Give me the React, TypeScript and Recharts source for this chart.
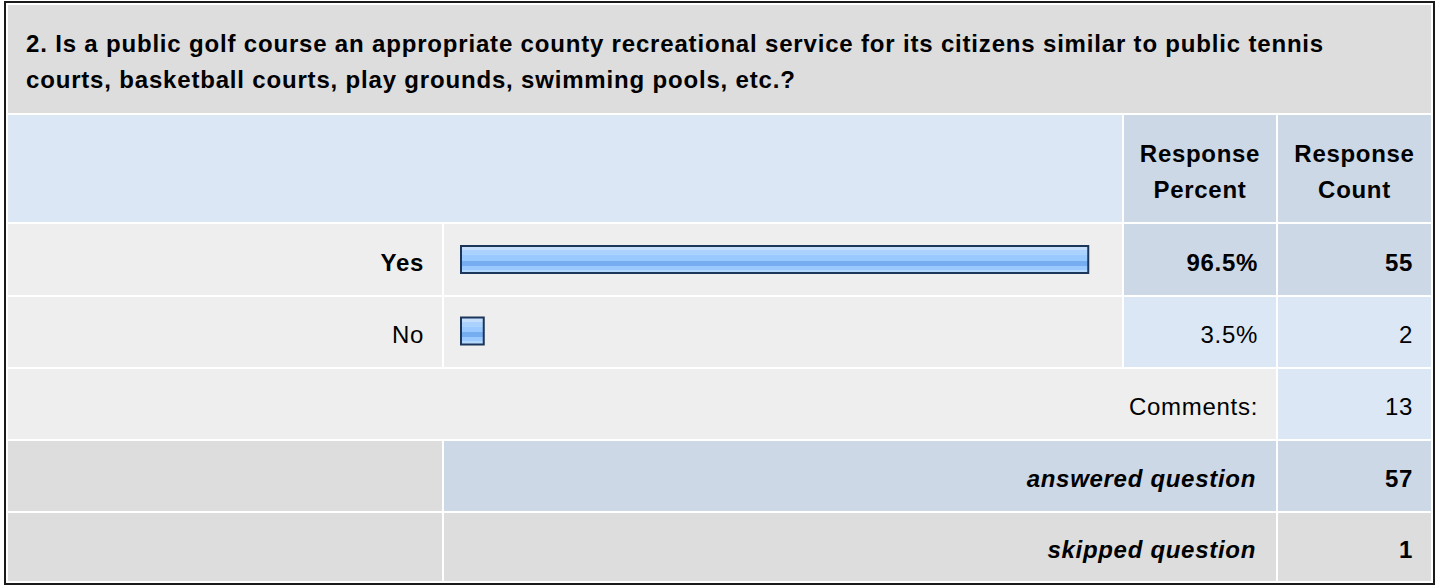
import React from "react";
import { BarChart, Bar, XAxis, YAxis } from "recharts";

// survey answers
const CATEGORIES = ["Yes", "No"];
const PERCENTS = [96.5, 3.5];
const COUNTS = [55, 2];
const COMMENTS = 13;
const ANSWERED = 57;
const SKIPPED = 1;
const QUESTION =
  "2. Is a public golf course an appropriate county recreational service for its citizens similar to public tennis courts, basketball courts, play grounds, swimming pools, etc.?";

const GRAY = "#dddddd";
const LIGHT = "#eeeeee";
const BLUE = "#dce7f5";
const BLUE_DARK = "#ccd8e6";

const FONT = '"Liberation Sans", Arial, Helvetica, sans-serif';

interface CellProps {
  x: number;
  y: number;
  w: number;
  h: number;
  bg: string;
  align?: "left" | "right" | "center";
  bold?: boolean;
  italic?: boolean;
  padRight?: number;
  spacing?: number;
  children?: React.ReactNode;
}

function Cell({ x, y, w, h, bg, align = "right", bold, italic, padRight = 18, spacing, children }: CellProps) {
  return (
    <div
      style={{
        position: "absolute",
        left: x,
        top: y,
        width: w,
        height: h,
        background: bg,
        boxSizing: "border-box",
        display: "flex",
        alignItems: "center",
        justifyContent: align === "right" ? "flex-end" : align === "left" ? "flex-start" : "center",
        textAlign: align,
        paddingTop: 6,
        paddingLeft: 18,
        paddingRight: padRight,
        fontWeight: bold ? "bold" : "normal",
        fontStyle: italic ? "italic" : "normal",
        letterSpacing: spacing,
      }}
    >
      <div>{children}</div>
    </div>
  );
}

export default function App() {
  const data = CATEGORIES.map((name, i) => ({ name, percent: PERCENTS[i] }));

  // columns: label | bar | percent | count
  const cA = [8, 442];
  const cB = [444, 1122];
  const cC = [1124, 1276];
  const cD = [1278, 1431];
  const rows = {
    title: [5, 113],
    header: [115, 222],
    yes: [224, 295],
    no: [297, 367],
    comments: [369, 439],
    answered: [441, 511],
    skipped: [513, 581],
  };
  const w = (c: number[]) => c[1] - c[0];
  const h = (r: number[]) => r[1] - r[0];

  return (
    <div
      style={{
        position: "absolute",
        left: 0,
        top: 0,
        width: 1437,
        height: 586,
        background: "#fff",
        fontFamily: FONT,
        fontSize: 24,
        lineHeight: "36px",
        letterSpacing: 0.7,
        color: "#000",
      }}
    >
      <div
        style={{
          position: "absolute",
          left: 4,
          top: 1,
          width: 1431,
          height: 584,
          border: "2px solid #1a1a1a",
          boxSizing: "border-box",
        }}
      />

      <Cell
        x={cA[0]}
        y={rows.title[0]}
        w={cD[1] - cA[0]}
        h={h(rows.title)}
        bg={GRAY}
        align="left"
        bold
        padRight={80}
        spacing={0.82}
      >
        {QUESTION}
      </Cell>

      <Cell x={cA[0]} y={rows.header[0]} w={cB[1] - cA[0]} h={h(rows.header)} bg={BLUE} />
      <Cell x={cC[0]} y={rows.header[0]} w={w(cC)} h={h(rows.header)} bg={BLUE_DARK} align="center" bold padRight={0}>
        <div style={{ marginLeft: -18 }}>
          Response
          <br />
          Percent
        </div>
      </Cell>
      <Cell x={cD[0]} y={rows.header[0]} w={w(cD)} h={h(rows.header)} bg={BLUE_DARK} align="center" bold padRight={0}>
        <div style={{ marginLeft: -18 }}>
          Response
          <br />
          Count
        </div>
      </Cell>

      {CATEGORIES.map((name, i) => {
        const r = i === 0 ? rows.yes : rows.no;
        const top = i === 0;
        return (
          <React.Fragment key={name}>
            <Cell x={cA[0]} y={r[0]} w={w(cA)} h={h(r)} bg={LIGHT} bold={top}>
              {name}
            </Cell>
            <Cell x={cB[0]} y={r[0]} w={w(cB)} h={h(r)} bg={LIGHT} />
            <Cell x={cC[0]} y={r[0]} w={w(cC)} h={h(r)} bg={top ? BLUE_DARK : BLUE} bold={top}>
              {PERCENTS[i].toFixed(1)}%
            </Cell>
            <Cell x={cD[0]} y={r[0]} w={w(cD)} h={h(r)} bg={top ? BLUE_DARK : BLUE} bold={top}>
              {COUNTS[i]}
            </Cell>
          </React.Fragment>
        );
      })}

      <Cell x={cA[0]} y={rows.comments[0]} w={cC[1] - cA[0]} h={h(rows.comments)} bg={LIGHT}>
        Comments:
      </Cell>
      <Cell x={cD[0]} y={rows.comments[0]} w={w(cD)} h={h(rows.comments)} bg={BLUE}>
        {COMMENTS}
      </Cell>

      <Cell x={cA[0]} y={rows.answered[0]} w={w(cA)} h={h(rows.answered)} bg={GRAY} />
      <Cell x={cB[0]} y={rows.answered[0]} w={cC[1] - cB[0]} h={h(rows.answered)} bg={BLUE_DARK} bold italic padRight={20}>
        answered question
      </Cell>
      <Cell x={cD[0]} y={rows.answered[0]} w={w(cD)} h={h(rows.answered)} bg={BLUE_DARK} bold>
        {ANSWERED}
      </Cell>

      <Cell x={cA[0]} y={rows.skipped[0]} w={w(cA)} h={h(rows.skipped)} bg={GRAY} />
      <Cell x={cB[0]} y={rows.skipped[0]} w={cC[1] - cB[0]} h={h(rows.skipped)} bg={GRAY} bold italic padRight={20}>
        skipped question
      </Cell>
      <Cell x={cD[0]} y={rows.skipped[0]} w={w(cD)} h={h(rows.skipped)} bg={GRAY} bold>
        {SKIPPED}
      </Cell>

      <div style={{ position: "absolute", left: cB[0], top: rows.yes[0] }}>
        <BarChart
          width={w(cB)}
          height={rows.no[1] - rows.yes[0]}
          data={data}
          layout="vertical"
          margin={{ top: 0, right: 11, bottom: 0, left: 17 }}
        >
          <defs>
            <linearGradient id="barStripes" x1="0" y1="0" x2="0" y2="1">
              <stop offset="0%" stopColor="#c4defc" />
              <stop offset="15%" stopColor="#c4defc" />
              <stop offset="15%" stopColor="#abd2fd" />
              <stop offset="35%" stopColor="#abd2fd" />
              <stop offset="35%" stopColor="#99c9ff" />
              <stop offset="55%" stopColor="#99c9ff" />
              <stop offset="55%" stopColor="#76adf0" />
              <stop offset="73%" stopColor="#76adf0" />
              <stop offset="73%" stopColor="#99c9ff" />
              <stop offset="88%" stopColor="#99c9ff" />
              <stop offset="88%" stopColor="#b4d8fd" />
              <stop offset="100%" stopColor="#b4d8fd" />
            </linearGradient>
          </defs>
          <XAxis type="number" domain={[0, 100]} hide />
          <YAxis type="category" dataKey="name" hide />
          <Bar
            dataKey="percent"
            barSize={27}
            fill="url(#barStripes)"
            stroke="#1c365a"
            strokeWidth={2}
            isAnimationActive={false}
          />
        </BarChart>
      </div>
    </div>
  );
}
